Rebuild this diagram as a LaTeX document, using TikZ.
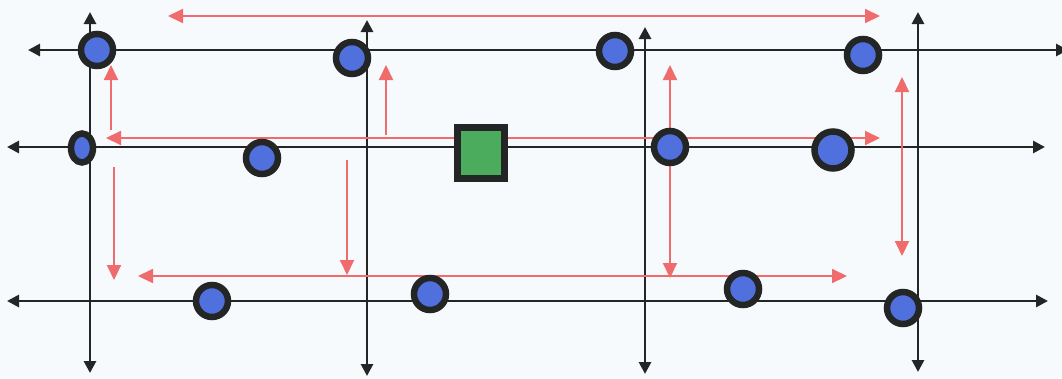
\documentclass[tikz,border=0pt]{standalone}
\usetikzlibrary{arrows.meta,shapes.geometric}
\definecolor{bg}{RGB}{247,250,252}
\definecolor{ink}{RGB}{36,38,38}
\definecolor{arr}{RGB}{240,108,108}
\definecolor{dotblue}{RGB}{80,112,222}
\definecolor{boxgreen}{RGB}{74,172,92}
\tikzset{
  axisline/.style={draw=ink, line width=2.8pt,
    {Triangle[length=12pt,width=12pt]}-{Triangle[length=12pt,width=12pt]}},
  moveone/.style={draw=arr, line width=2pt, -{Triangle[length=15pt,width=14pt]}},
  movetwo/.style={draw=arr, line width=2pt,
    {Triangle[length=15pt,width=14pt]}-{Triangle[length=15pt,width=14pt]}},
  site/.style={circle, draw=ink, fill=dotblue, line width=6.5pt, minimum size=32pt, inner sep=0pt},
  hub/.style={rectangle, draw=ink, fill=boxgreen, line width=7pt, minimum width=47pt, minimum height=51pt, inner sep=0pt}
}
\begin{document}
\begin{tikzpicture}[x=1pt,y=-1pt]
\fill[bg] (0,0) rectangle (1062,378);
\useasboundingbox (0,0) rectangle (1062,378);

% axis end points
\coordinate (h1a) at (28,50);  \coordinate (h1b) at (1068,50);
\coordinate (h2a) at (7,147);  \coordinate (h2b) at (1045,147);
\coordinate (h3a) at (7,301);  \coordinate (h3b) at (1048,301);
\coordinate (v1a) at (90,12);  \coordinate (v1b) at (90,373);
\coordinate (v2a) at (367,20); \coordinate (v2b) at (367,376);
\coordinate (v3a) at (645,27); \coordinate (v3b) at (645,374);
\coordinate (v4a) at (918,12); \coordinate (v4b) at (918,372);

\draw[axisline] (h1a) -- (h1b);
\draw[axisline] (h2a) -- (h2b);
\draw[axisline] (h3a) -- (h3b);
\draw[axisline] (v1a) -- (v1b);
\draw[axisline] (v2a) -- (v2b);
\draw[axisline] (v3a) -- (v3b);
\draw[axisline] (v4a) -- (v4b);

% red move arrows
\coordinate (r1a) at (168,16);  \coordinate (r1b) at (880,16);
\coordinate (r2a) at (106,138); \coordinate (r2b) at (880,138);
\coordinate (r3a) at (138,276); \coordinate (r3b) at (847,276);
\coordinate (r4a) at (111,130); \coordinate (r4b) at (111,65);
\coordinate (r5a) at (114,167); \coordinate (r5b) at (114,280);
\coordinate (r6a) at (386,135); \coordinate (r6b) at (386,65);
\coordinate (r7a) at (347,160); \coordinate (r7b) at (347,275);
\coordinate (r8a) at (670,65);  \coordinate (r8b) at (670,278);
\coordinate (r9a) at (902,77);  \coordinate (r9b) at (902,256);

\draw[movetwo] (r1a) -- (r1b);
\draw[movetwo] (r2a) -- (r2b);
\draw[movetwo] (r3a) -- (r3b);
\draw[moveone] (r4a) -- (r4b);
\draw[moveone] (r5a) -- (r5b);
\draw[moveone] (r6a) -- (r6b);
\draw[moveone] (r7a) -- (r7b);
\draw[movetwo] (r8a) -- (r8b);
\draw[movetwo] (r9a) -- (r9b);

% nodes
\node[hub] (box) at (481,153) {};
\node[site] (c1) at (97,50) {};
\node[site] (c2) at (352,58) {};
\node[site] (c3) at (615,51) {};
\node[site] (c4) at (863,55) {};
\node[ellipse, draw=ink, fill=dotblue, line width=6.5pt, minimum width=22pt, minimum height=29pt, inner sep=0pt] (c5) at (82,148) {};
\node[site] (c6) at (262,158) {};
\node[site] (c7) at (670,147) {};
\node[site, minimum size=37pt] (c8) at (833,150) {};
\node[site] (c9) at (212,301) {};
\node[site] (c10) at (430,294) {};
\node[site] (c11) at (743,289) {};
\node[site] (c12) at (903,308) {};
\end{tikzpicture}
\end{document}
